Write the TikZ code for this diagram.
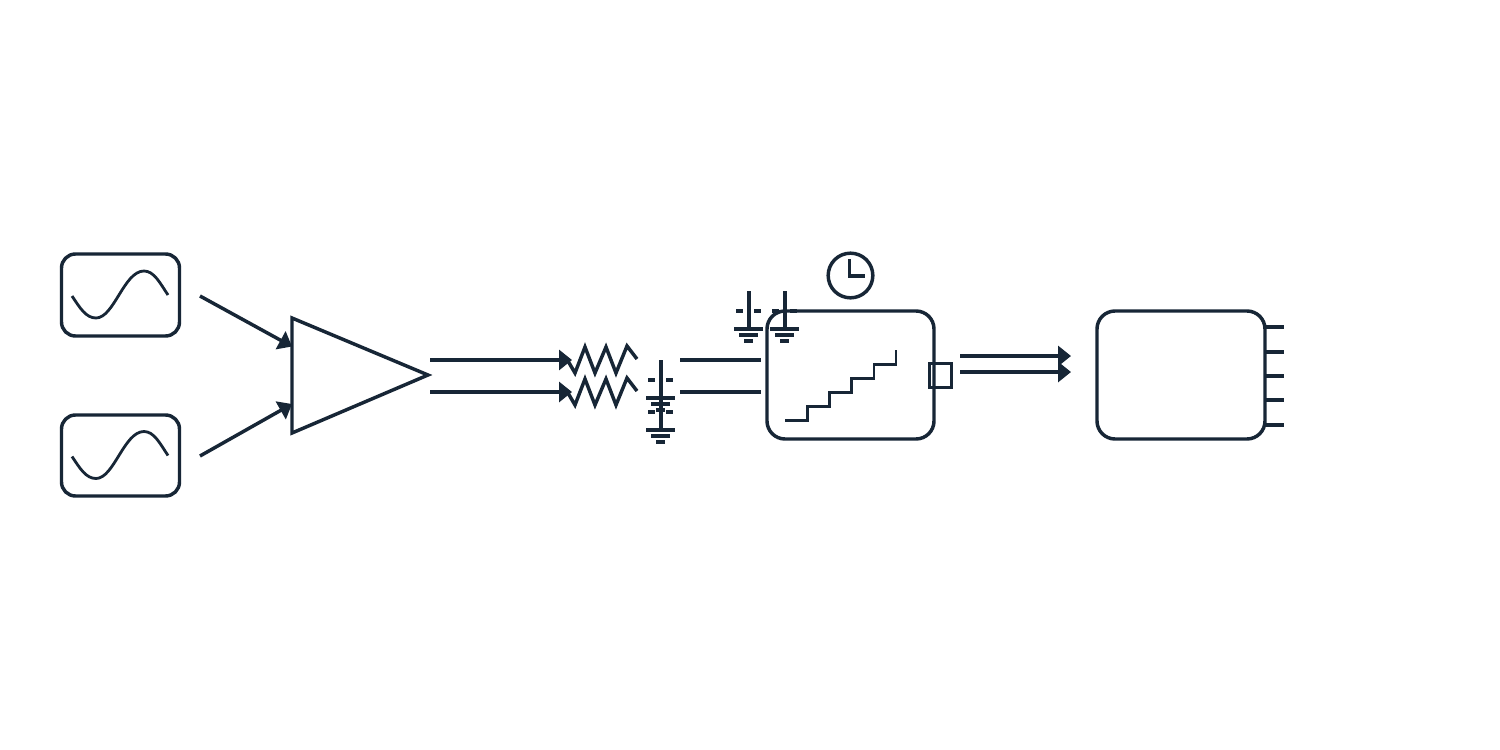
\documentclass[tikz,border=0pt]{standalone}
\usetikzlibrary{arrows.meta}
\definecolor{ink}{HTML}{172636}
\tikzset{
  base/.style={draw=ink,line width=2.6pt},
  thin line/.style={draw=ink,line width=2.1pt},
  wire/.style={base,-{Triangle[length=9.75pt,width=15pt,fill=ink]}},
  plainwire/.style={base},
  roundbox/.style={base,rectangle,rounded corners=#1,inner sep=0pt,outer sep=0pt},
  stub/.style={draw=ink,line width=2.6pt},
}
\newcommand{\groundsym}[2]{%
  \draw[stub] (#1,#2) -- ++(0,38);
  \draw[stub] (#1-13,#2+20) -- ++(7,0);
  \draw[stub] (#1+5,#2+20) -- ++(7,0);
  \draw[stub] (#1-15,#2+38) -- ++(29,0);
  \draw[stub] (#1-10,#2+44) -- ++(19,0);
  \draw[stub] (#1-5,#2+50) -- ++(9,0);
}
\newcommand{\sinewave}[1]{%
  \draw[thin line] (72,#1+296) .. controls (80,#1+308) and (86,#1+318) .. (96,#1+318)
    .. controls (114,#1+318) and (124,#1+271) .. (144,#1+271)
    .. controls (154,#1+271) and (160,#1+283) .. (168,#1+295);
}
\begin{document}
\begin{tikzpicture}[x=0.75pt,y=-0.75pt]
\useasboundingbox (0,0) rectangle (1500,750);
\fill[white] (0,0) rectangle (1500,750);
% sources
\node[roundbox=10.5pt,minimum width=88.5pt,minimum height=61.5pt] (osc1) at (120.5,295) {};
\node[roundbox=10.5pt,minimum width=88.5pt,minimum height=60.75pt] (osc2) at (120.5,455.5) {};
\sinewave{0}
\sinewave{160.5}
% amplifier
\coordinate (a1) at (292,318);
\coordinate (a2) at (292,433);
\coordinate (a3) at (428,375);
\draw[base,line join=miter] (a1) -- (a2) -- (a3) -- cycle;
\coordinate (in1) at (200,296);
\coordinate (in1e) at (292,346.5);
\coordinate (in2) at (200,456);
\coordinate (in2e) at (292,404);
\draw[wire] (in1) -- (in1e);
\draw[wire] (in2) -- (in2e);
% outputs to resistors
\coordinate (o1) at (430,360);
\coordinate (r1) at (572,360);
\coordinate (o2) at (430,392);
\coordinate (r2) at (572,392);
\draw[wire] (o1) -- (r1);
\draw[wire] (o2) -- (r2);
\draw[base,line join=miter] (568,361) -- (575,373) -- (585,347) -- (595,373) -- (606,347) -- (616,373) -- (627,346) -- (637,359);
\draw[base,line join=miter] (568,393) -- (575,405) -- (585,379) -- (595,405) -- (606,379) -- (616,405) -- (627,378) -- (637,391);
% grounds
\groundsym{661}{360}
\groundsym{661}{392}
\groundsym{749}{291}
\groundsym{785}{291}
% adc input
\coordinate (i1) at (680,360);
\coordinate (i1e) at (761,360);
\coordinate (i2) at (680,392);
\coordinate (i2e) at (761,392);
\draw[plainwire] (i1) -- (i1e);
\draw[plainwire] (i2) -- (i2e);
% adc
\node[roundbox=13.5pt,minimum width=125.25pt,minimum height=96pt] (adc) at (850.5,375) {};
\draw[thin line,line join=miter] (785,420.5) -| (807.5,406.5) -| (829.5,392.5) -| (851.5,378.5) -| (874,364.5) -| (896,350);
\node[base,rectangle,inner sep=0pt,outer sep=0pt,minimum width=16.5pt,minimum height=18pt] (port) at (940.5,375.5) {};
% clock
\node[base,circle,inner sep=0pt,outer sep=0pt,minimum size=33.5pt] (clk) at (850.5,275.5) {};
\draw[base,line join=miter] (849.5,259) |- (865,276);
% outputs
\coordinate (d1) at (960,356);
\coordinate (d1e) at (1071,356);
\coordinate (d2) at (960,372);
\coordinate (d2e) at (1071,372);
\draw[wire] (d1) -- (d1e);
\draw[wire] (d2) -- (d2e);
% processor
\node[roundbox=13.5pt,minimum width=126pt,minimum height=96pt] (proc) at (1181,375) {};
\foreach \yy in {327,352,376,400,425}
  \draw[stub] (1265,\yy) -- (1284,\yy);
\end{tikzpicture}
\end{document}
